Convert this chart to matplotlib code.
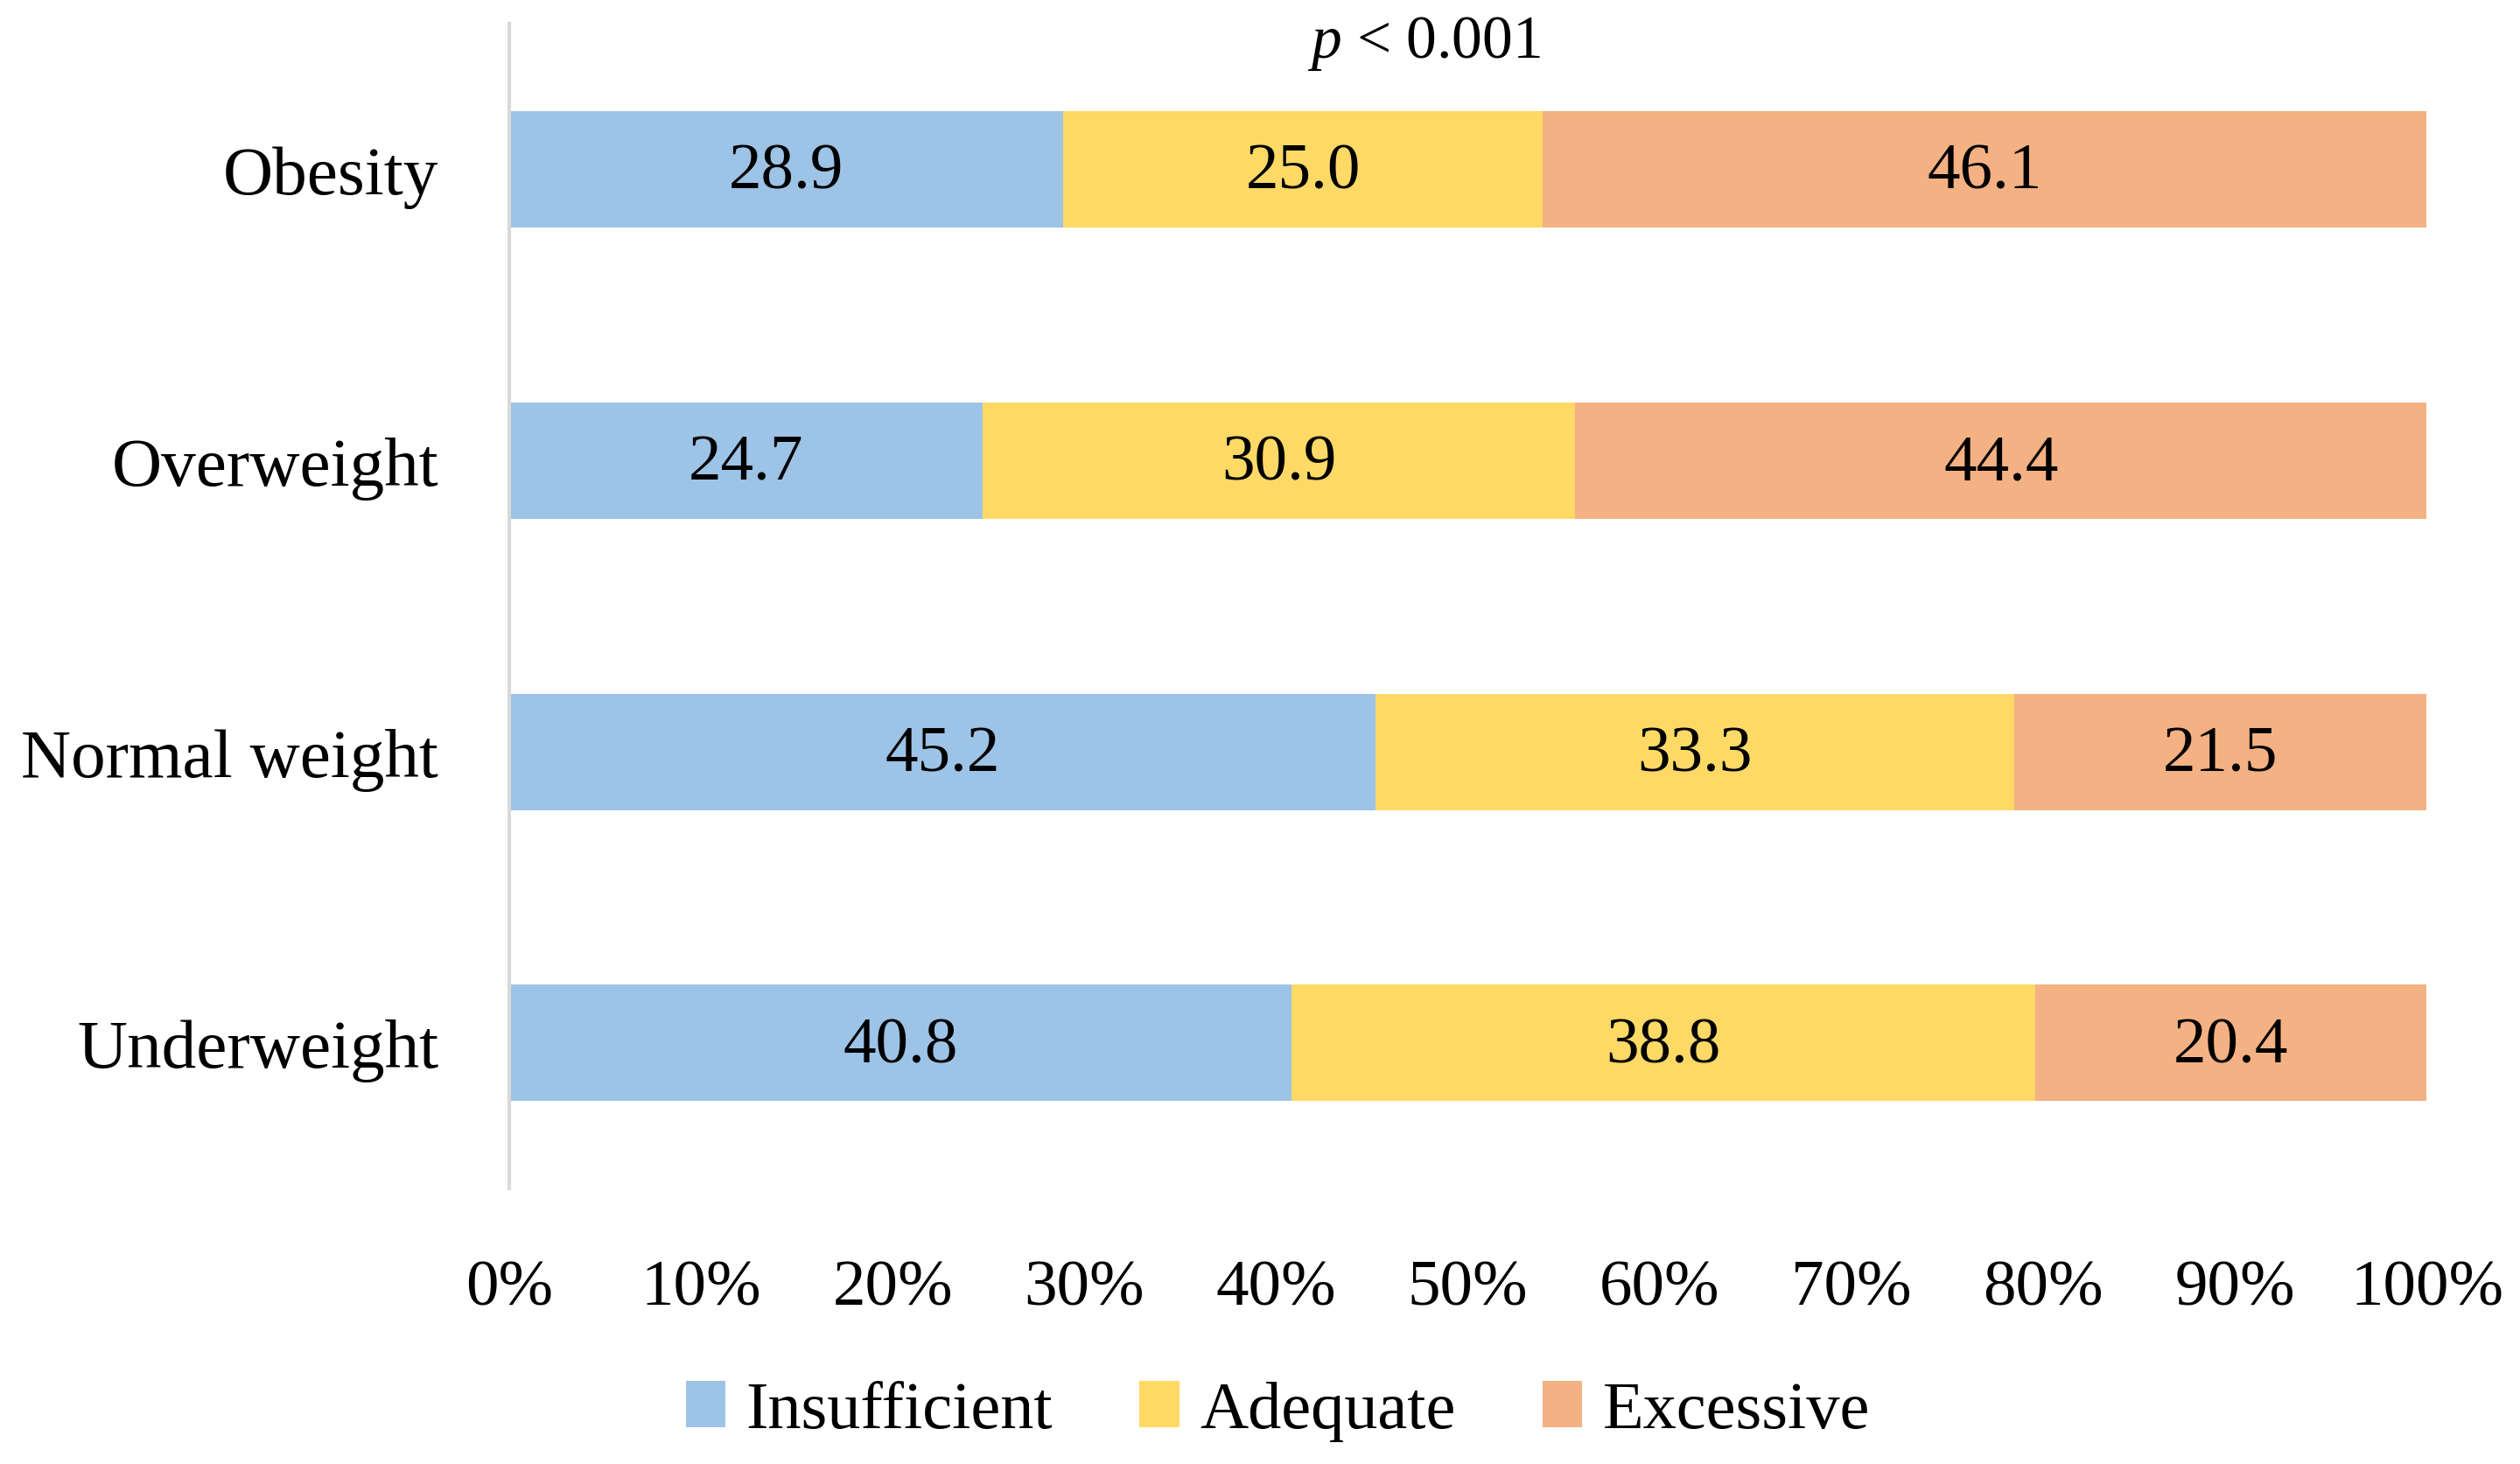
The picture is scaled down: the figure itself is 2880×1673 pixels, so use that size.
import matplotlib.pyplot as plt
import numpy as np

categories = ['Underweight', 'Normal weight', 'Overweight', 'Obesity']
insufficient = [40.8, 45.2, 24.7, 28.9]
adequate = [38.8, 33.3, 30.9, 25.0]
excessive = [20.4, 21.5, 44.4, 46.1]
series_names = ['Insufficient', 'Adequate', 'Excessive']
colors = ['#9DC3E6', '#FFD966', '#F4B183']
xticks = np.arange(0, 101, 10)
xticklabels = [f'{t}%' for t in xticks]

plt.rcParams['font.family'] = ['Liberation Serif', 'DejaVu Serif']
plt.rcParams['mathtext.fontset'] = 'custom'
plt.rcParams['mathtext.it'] = 'Liberation Serif:italic'
plt.rcParams['mathtext.rm'] = 'Liberation Serif'

fig = plt.figure(figsize=(14.4, 8.37), dpi=200)
ax = fig.add_axes([0.202, 0.188, 0.761, 0.795])

y = np.arange(len(categories))
left = np.zeros(len(categories))
for vals, name, col in zip([insufficient, adequate, excessive], series_names, colors):
    ax.barh(y, vals, left=left, height=0.4, color=col, label=name)
    for yi, l, v in zip(y, left, vals):
        ax.text(l + v / 2, yi - 0.01, f'{v:.1f}', ha='center', va='center', fontsize=27)
    left = left + np.array(vals)

ax.set_xlim(0, 100)
ax.set_ylim(-0.5, 3.5)
ax.set_yticks(y)
ax.set_yticklabels(categories, fontsize=28.5)
ax.set_xticks(xticks)
ax.set_xticklabels(xticklabels, fontsize=27)
ax.tick_params(length=0)
ax.tick_params(axis='x', pad=29)
ax.tick_params(axis='y', pad=29)
for s in ['top', 'right', 'bottom']:
    ax.spines[s].set_visible(False)
ax.spines['left'].set_color('#D9D9D9')
ax.spines['left'].set_linewidth(1.5)

fig.text(0.565, 0.970, r'$p$ < 0.001', ha='center', va='center', fontsize=25)

fig.legend(loc='center', bbox_to_anchor=(0.507, 0.036), ncol=3, frameon=False,
           fontsize=27.5, handlelength=0.6, handleheight=0.7, handletextpad=0.3,
           columnspacing=1.3)

fig.savefig('out.png')
